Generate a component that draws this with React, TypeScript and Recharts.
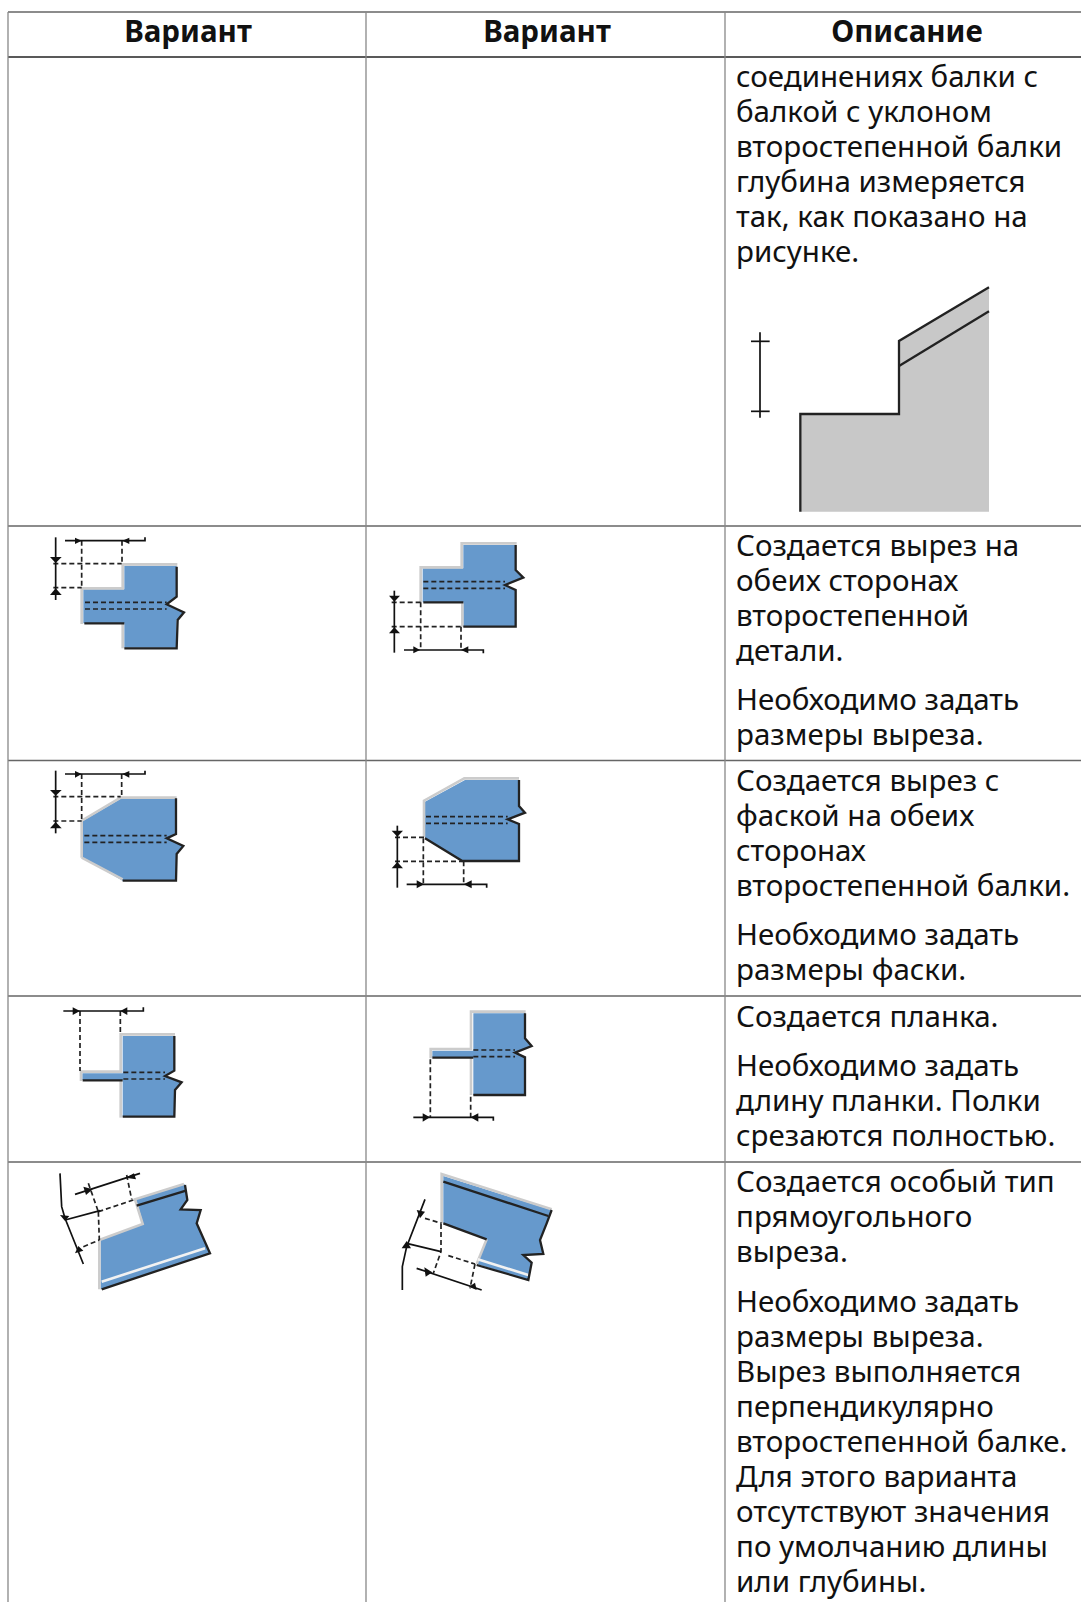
import React from 'react';
import { ScatterChart, Scatter, XAxis, YAxis, ReferenceLine } from 'recharts';

type P = [number, number];
type Diagram = { o: P; gray?: P[][]; fill?: P[][]; light?: P[][]; white?: P[][]; dash?: P[][]; dark?: P[][]; dim?: P[][]; arrow?: P[][] };

const headers = [
  { x: 188, y: 42, text: 'Вариант' },
  { x: 547, y: 42, text: 'Вариант' },
  { x: 907, y: 42, text: 'Описание' },
];

const descriptionLines = [
  [87, 'соединениях балки с'], [122, 'балкой с уклоном'], [157, 'второстепенной балки'],
  [192, 'глубина измеряется'], [227, 'так, как показано на'], [262, 'рисунке.'],
  [556, 'Создается вырез на'], [591, 'обеих сторонах'], [626, 'второстепенной'], [661, 'детали.'],
  [710, 'Необходимо задать'], [745, 'размеры выреза.'],
  [791, 'Создается вырез с'], [826, 'фаской на обеих'], [861, 'сторонах'], [896, 'второстепенной балки.'],
  [945, 'Необходимо задать'], [980, 'размеры фаски.'],
  [1027, 'Создается планка.'], [1076, 'Необходимо задать'], [1111, 'длину планки. Полки'], [1146, 'срезаются полностью.'],
  [1192, 'Создается особый тип'], [1227, 'прямоугольного'], [1262, 'выреза.'],
  [1312, 'Необходимо задать'], [1347, 'размеры выреза.'], [1382, 'Вырез выполняется'], [1417, 'перпендикулярно'],
  [1452, 'второстепенной балке.'], [1487, 'Для этого варианта'], [1522, 'отсутствуют значения'], [1557, 'по умолчанию длины'], [1592, 'или глубины.'],
] as [number, string][];

const tableRows = [12, 57, 526, 760.5, 996, 1162];
const tableColumns = [8, 366, 725];

const depthSketch: Diagram = {
  o: [725, 270],
  gray: [[[228, 432], [522, 432], [522, 215], [792, 50], [792, 725], [228, 725]]],
  dark: [
    [[226, 725], [226, 432], [522, 432], [522, 213], [792, 52]],
    [[522, 288], [792, 124]],
  ],
  dim: [[[105, 187], [105, 443]], [[78, 214], [134, 214]], [[78, 424], [134, 424]]],
};

const row1Left: Diagram = {
  o: [30, 525],
  fill: [[[283, 122], [440, 122], [440, 215], [410, 238], [462, 262], [440, 285], [440, 368], [283, 368], [283, 295], [160, 295], [160, 193], [283, 193]]],
  light: [[[155, 297], [155, 190], [278, 190], [278, 118], [442, 118]], [[278, 295], [278, 370]]],
  dash: [[[165, 232], [410, 232]], [[165, 252], [410, 252]], [[70, 116], [275, 116]], [[70, 188], [155, 188]], [[155, 47], [155, 188]], [[276, 47], [276, 116]]],
  dark: [[[440, 125], [440, 215], [410, 238], [440, 252], [462, 262], [443, 285], [440, 370], [283, 370]], [[163, 295], [283, 295]]],
  dim: [[[105, 47], [345, 47], [345, 37]], [[77, 37], [77, 225]]],
  arrow: [[[135, 38], [155, 47], [135, 57]], [[298, 38], [277, 47], [298, 57]], [[60, 96], [77, 114], [95, 96]], [[60, 210], [77, 190], [95, 210]]],
};

const row1Right: Diagram = {
  o: [375, 525],
  fill: [[[265, 60], [422, 60], [422, 135], [445, 158], [390, 180], [422, 195], [422, 305], [265, 305], [265, 232], [143, 232], [143, 130], [265, 130]]],
  light: [[[137, 232], [137, 127], [260, 127], [260, 55], [425, 55]], [[262, 235], [262, 305]]],
  dash: [[[145, 170], [390, 170]], [[145, 190], [390, 190]], [[50, 232], [137, 232]], [[50, 305], [260, 305]], [[137, 232], [137, 375]], [[258, 305], [258, 375]]],
  dark: [[[422, 60], [422, 135], [445, 158], [390, 180], [422, 195], [422, 305], [265, 305]], [[145, 232], [265, 232]]],
  dim: [[[58, 197], [58, 383]], [[87, 375], [325, 375], [325, 385]]],
  arrow: [[[42, 212], [58, 230], [75, 212]], [[42, 325], [58, 307], [75, 325]], [[115, 364], [135, 375], [115, 385]], [[280, 364], [258, 375], [280, 385]]],
};

const row2Left: Diagram = {
  o: [30, 760],
  fill: [[[275, 115], [438, 115], [438, 222], [410, 235], [460, 258], [440, 282], [438, 362], [278, 362], [158, 293], [158, 183]]],
  light: [[[155, 293], [155, 182], [272, 113], [440, 113]], [[155, 293], [278, 358]]],
  dash: [[[163, 227], [410, 227]], [[163, 247], [410, 247]], [[70, 110], [272, 110]], [[70, 183], [155, 183]], [[155, 42], [155, 183]], [[275, 42], [275, 110]]],
  dark: [[[438, 115], [438, 222], [410, 235], [460, 258], [440, 282], [438, 362], [278, 362]]],
  dim: [[[105, 42], [345, 42], [345, 32]], [[77, 32], [77, 220]]],
  arrow: [[[135, 33], [155, 42], [135, 53]], [[298, 33], [277, 42], [298, 53]], [[60, 90], [77, 107], [95, 90]], [[60, 205], [77, 186], [95, 205]]],
};

const row2Right: Diagram = {
  o: [375, 760],
  fill: [[[270, 60], [432, 60], [432, 138], [450, 158], [398, 178], [432, 192], [432, 303], [262, 303], [150, 235], [150, 125]]],
  light: [[[147, 232], [147, 122], [268, 55], [432, 55]]],
  dash: [[[153, 170], [398, 170]], [[153, 190], [398, 190]], [[60, 232], [147, 232]], [[60, 304], [262, 304]], [[145, 235], [145, 375]], [[266, 304], [266, 375]]],
  dark: [[[432, 60], [432, 138], [450, 158], [398, 178], [432, 192], [432, 303], [262, 303], [150, 235]]],
  dim: [[[67, 197], [67, 383]], [[95, 373], [335, 373], [335, 383]]],
  arrow: [[[50, 212], [67, 230], [84, 212]], [[50, 325], [67, 306], [84, 325]], [[125, 361], [147, 373], [125, 385]], [[290, 361], [266, 373], [290, 385]]],
};

const row3Left: Diagram = {
  o: [30, 1000],
  fill: [[[278, 108], [433, 108], [433, 212], [405, 228], [455, 247], [433, 270], [433, 350], [278, 350], [278, 240], [157, 240], [157, 220], [278, 220]]],
  light: [[[153, 243], [153, 215], [272, 215], [272, 103], [435, 103]], [[272, 240], [272, 353]]],
  dash: [[[280, 217], [405, 217]], [[280, 237], [405, 237]], [[150, 33], [150, 213]], [[271, 33], [271, 100]]],
  dark: [[[433, 108], [433, 212], [405, 228], [455, 247], [435, 270], [433, 350], [278, 350]], [[158, 241], [278, 241]]],
  dim: [[[100, 33], [340, 33], [340, 22]]],
  arrow: [[[128, 22], [150, 33], [128, 45]], [[292, 22], [271, 33], [292, 45]]],
};

const row3Right: Diagram = {
  o: [375, 1000],
  fill: [[[295, 40], [450, 40], [450, 115], [470, 138], [420, 158], [450, 172], [450, 285], [295, 285], [295, 172], [172, 172], [172, 152], [295, 152]]],
  light: [[[167, 175], [167, 147], [288, 147], [288, 35], [452, 35]], [[288, 172], [288, 285]]],
  dash: [[[295, 150], [420, 150]], [[295, 170], [420, 170]], [[166, 178], [166, 352]], [[287, 290], [287, 352]]],
  dark: [[[450, 40], [450, 115], [470, 138], [420, 158], [450, 172], [450, 285], [295, 285]], [[172, 173], [295, 173]]],
  dim: [[[115, 352], [355, 352], [355, 362]]],
  arrow: [[[143, 340], [165, 352], [143, 365]], [[310, 340], [287, 352], [310, 365]]],
};

const row4Left: Diagram = {
  o: [30, 1140],
  fill: [[[318, 178], [465, 133], [470, 180], [452, 208], [512, 210], [500, 250], [540, 340], [212, 448], [212, 300], [340, 252]]],
  light: [[[208, 448], [208, 300], [338, 252], [315, 178], [462, 132]]],
  white: [[[215, 425], [525, 325]]],
  dash: [[[175, 130], [205, 215]], [[205, 215], [310, 180]], [[160, 320], [208, 300]], [[205, 215], [208, 300]], [[290, 105], [305, 178]]],
  dark: [[[465, 135], [472, 180], [452, 208], [512, 210], [500, 250], [540, 340], [215, 448]], [[320, 197], [468, 152]]],
  dim: [[[135, 163], [330, 100]], [[90, 100], [95, 200], [105, 235], [160, 372]], [[105, 240], [210, 212]]],
  arrow: [[[160, 140], [188, 148], [168, 165]], [[312, 100], [287, 113], [318, 118]], [[90, 225], [105, 243], [118, 228]], [[135, 340], [145, 318], [160, 332]]],
};

const row4Right: Diagram = {
  o: [375, 1140],
  fill: [[[205, 108], [530, 210], [515, 250], [495, 300], [505, 342], [445, 342], [470, 368], [460, 420], [305, 372], [335, 298], [205, 250]]],
  light: [[[200, 250], [200, 102], [530, 208]], [[305, 372], [335, 298]]],
  white: [[[308, 358], [460, 405]]],
  dash: [[[150, 235], [200, 250]], [[198, 252], [198, 335], [175, 400]], [[220, 347], [300, 372]], [[300, 372], [285, 445]]],
  dark: [[[205, 125], [520, 228]], [[530, 210], [515, 250], [495, 300], [505, 342], [445, 345], [470, 368], [460, 420], [305, 375]], [[205, 250], [335, 298]]],
  dim: [[[150, 178], [95, 320], [82, 380], [82, 450]], [[95, 310], [198, 335]], [[125, 385], [320, 450]]],
  arrow: [[[125, 210], [135, 235], [150, 215]], [[80, 325], [95, 303], [108, 325]], [[148, 382], [172, 397], [152, 410]], [[300, 428], [282, 440], [305, 450]]],
};

const diagrams = [depthSketch, row1Left, row1Right, row2Left, row2Right, row3Left, row3Right, row4Left, row4Right];

const INK = '#222222';
const layers: { key: keyof Diagram; line: Record<string, unknown> }[] = [
  { key: 'gray', line: { fill: '#c8c8c8', stroke: 'none' } },
  { key: 'fill', line: { fill: '#6699cc', stroke: 'none' } },
  { key: 'light', line: { fill: 'none', stroke: '#cccccc', strokeWidth: 2.6 } },
  { key: 'white', line: { fill: 'none', stroke: '#f2f2f2', strokeWidth: 2.6 } },
  { key: 'dash', line: { fill: 'none', stroke: INK, strokeWidth: 1.7, strokeDasharray: '5 3' } },
  { key: 'dark', line: { fill: 'none', stroke: INK, strokeWidth: 2.3 } },
  { key: 'dim', line: { fill: 'none', stroke: '#111111', strokeWidth: 1.7 } },
  { key: 'arrow', line: { fill: '#111111', stroke: 'none' } },
];

const FONT = '"Noto Sans", sans-serif';
const noDot = () => <g />;

const headerShape = (p: any) => (
  <text x={p.cx} y={p.cy} textAnchor="middle" fontFamily={FONT} fontWeight={700} fontSize={29.5} fill="#111">{p.payload.text}</text>
);
const bodyShape = (p: any) => (
  <text x={p.cx} y={p.cy} fontFamily={FONT} fontSize={29.5} fill="#111">{p.payload.text}</text>
);

export default function App() {
  const bodyData = descriptionLines.map(([y, text]) => ({ x: 736, y, text }));
  const series: React.ReactNode[] = [];
  diagrams.forEach((d, i) => {
    layers.forEach(({ key, line }) => {
      const paths = (d[key] as P[][] | undefined) ?? [];
      paths.forEach((path, j) => {
        const data = path.map(([x, y]) => ({ x: d.o[0] + x / 3, y: d.o[1] + y / 3 }));
        series.push(
          <Scatter key={`${i}-${String(key)}-${j}`} data={data} line={line as any} shape={noDot} isAnimationActive={false} />
        );
      });
    });
  });
  return (
    <div style={{ position: 'absolute', left: 0, top: 0, width: 1081, height: 1602, background: '#fff' }}>
      <ScatterChart width={1081} height={1602} margin={{ top: 0, right: 0, bottom: 0, left: 0 }}>
        <XAxis type="number" dataKey="x" domain={[0, 1081]} hide />
        <YAxis type="number" dataKey="y" domain={[0, 1602]} reversed hide />
        {tableRows.map((y, i) => (
          <ReferenceLine key={`r${i}`} stroke={i === 1 ? '#222222' : '#666666'} strokeWidth={1.3} segment={[{ x: 8, y }, { x: 1081, y }]} />
        ))}
        {tableColumns.map((x, i) => (
          <ReferenceLine key={`c${i}`} stroke="#888888" strokeWidth={1.3} segment={[{ x, y: 12 }, { x, y: 1602 }]} />
        ))}
        {series}
        <Scatter data={headers} shape={headerShape} isAnimationActive={false} />
        <Scatter data={bodyData} shape={bodyShape} isAnimationActive={false} />
      </ScatterChart>
    </div>
  );
}
